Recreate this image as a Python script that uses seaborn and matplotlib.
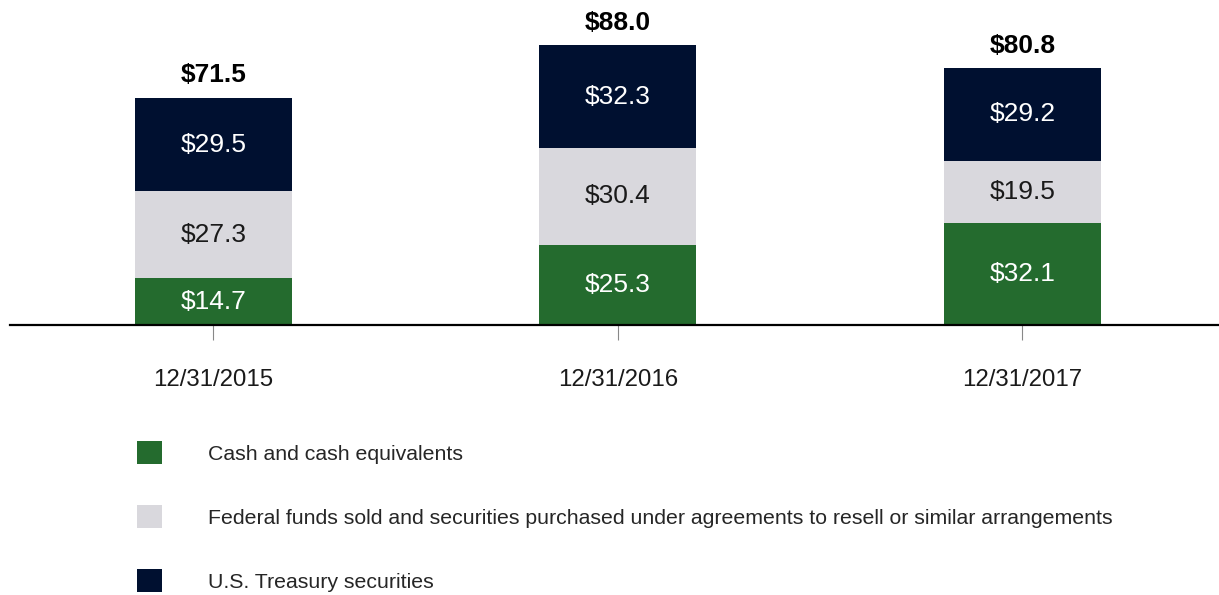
import matplotlib
matplotlib.use("Agg")
import matplotlib.pyplot as plt
import seaborn as sns
import pandas as pd
import numpy as np
from matplotlib.patches import Patch

# Year-end balances, $ billions
dates = ["12/31/2015", "12/31/2016", "12/31/2017"]
cash = [14.7, 25.3, 32.1]
fed_funds = [27.3, 30.4, 19.5]
treasury = [29.5, 32.3, 29.2]
totals = [71.5, 88.0, 80.8]

series_names = [
    "Cash and cash equivalents",
    "Federal funds sold and securities purchased under agreements to resell or similar arrangements",
    "U.S. Treasury securities",
]
colors = ["#246B2E", "#D9D8DD", "#001030"]
text_colors = ["white", "#1a1a1a", "white"]

sns.set_theme(style="white")
plt.rcParams["font.family"] = ["Liberation Sans", "DejaVu Sans"]

fig = plt.figure(figsize=(12.19, 5.95), dpi=100)
ax = fig.add_axes([10 / 1219, 270 / 595, 1209 / 1219, 325 / 595])

df = pd.DataFrame({"date": dates, "cash": cash, "fed": fed_funds, "treasury": treasury})
layers = [df["cash"].to_numpy(), df["fed"].to_numpy(), df["treasury"].to_numpy()]

# Stack the three components, labelling each segment in its centre
bottom = np.zeros(len(dates))
for vals, color, tcolor in zip(layers, colors, text_colors):
    sns.barplot(x=dates, y=vals, bottom=bottom, color=color, width=0.388,
                saturation=1, ax=ax, linewidth=0, errorbar=None)
    for i, v in enumerate(vals):
        ax.text(i, bottom[i] + v / 2, f"${v:.1f}", ha="center", va="center",
                color=tcolor, fontsize=19)
    bottom = bottom + vals

# Totals above each stack
for i, t in enumerate(totals):
    ax.annotate(f"${t:.1f}", xy=(i, t), xytext=(0, 16), textcoords="offset points",
                ha="center", va="center", fontsize=19, fontweight="bold", color="black")

ax.set_xlim(-0.503, 2.486)
ax.set_ylim(0, 102.2)
for s in ["top", "right", "left"]:
    ax.spines[s].set_visible(False)
ax.spines["bottom"].set_color("black")
ax.spines["bottom"].set_linewidth(1.6)
ax.set_yticks([])
ax.tick_params(axis="x", which="major", bottom=True, length=11, width=0.8,
               color="#888888", pad=20.5, labelsize=17.3, labelcolor="#1a1a1a")
ax.set_xlabel("")
ax.set_ylabel("")

handles = [Patch(facecolor=c, edgecolor="none") for c in colors]
fig.legend(handles, series_names, loc="upper left", bbox_to_anchor=(128 / 1219, 1 - 433 / 595),
           frameon=False, fontsize=15.3, handlelength=1.22, handleheight=1.25,
           handletextpad=2.15, labelspacing=1.95, borderaxespad=0)

fig.savefig("out.png", dpi=100)
